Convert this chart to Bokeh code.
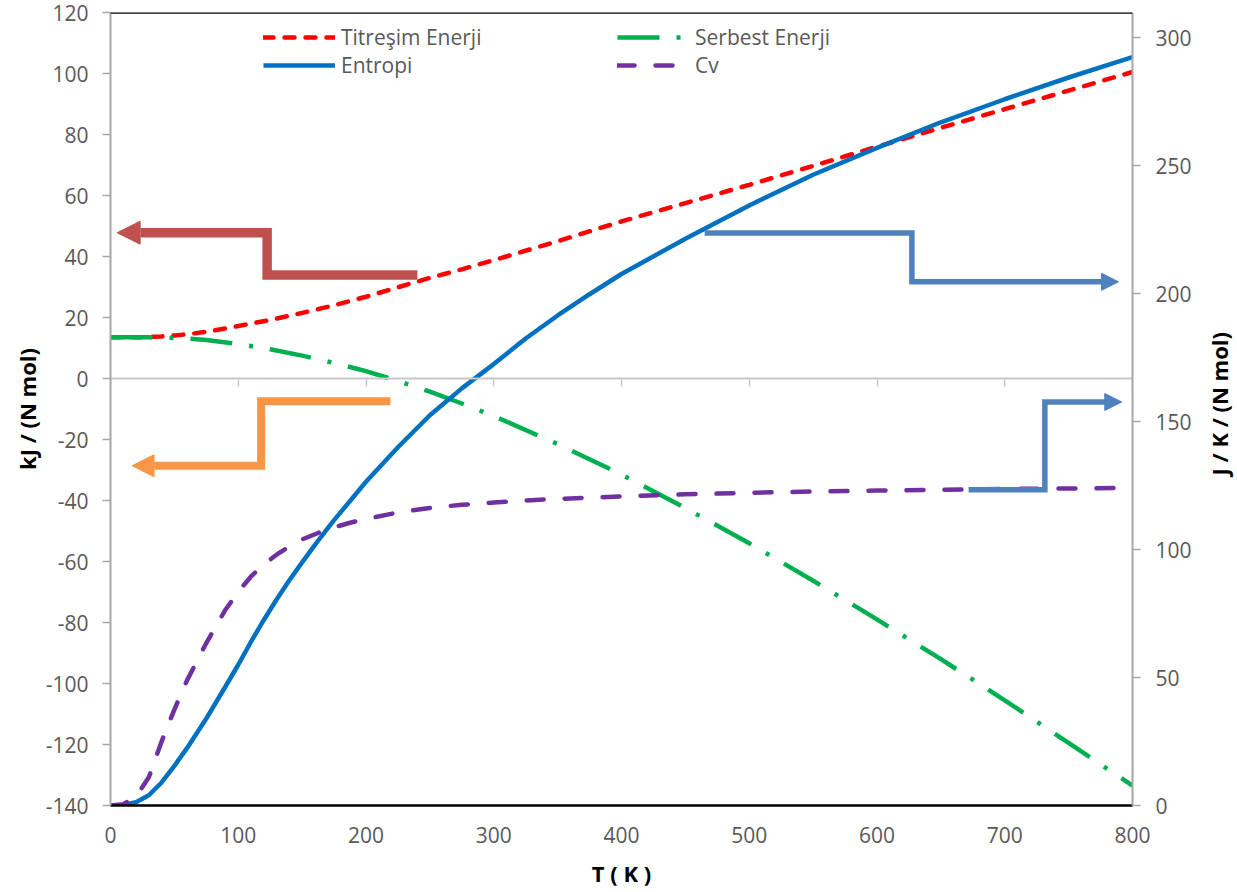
from bokeh.plotting import figure
from bokeh.layouts import row
from bokeh.models import (Range1d, LinearAxis, FixedTicker, Span, Legend, LegendItem,
                          Label, Arrow, NormalHead)
from bokeh.embed import file_html
from bokeh.resources import INLINE

# ---------------- data ----------------
T_left = [0, 10, 20, 30, 40, 50, 60, 75, 100, 125, 150, 175, 200, 225, 250, 275, 300,
          350, 400, 450, 500, 550, 600, 650, 700, 750, 800]
titresim = [13.5, 13.5, 13.5, 13.6, 13.8, 14.1, 14.5, 15.3, 17.2, 19.2, 21.5, 24.0,
            26.8, 29.9, 33.0, 35.8, 38.8, 45.0, 51.5, 57.5, 63.5, 69.7, 76.0, 82.2,
            88.3, 94.4, 100.5]
serbest = [13.5, 13.5, 13.5, 13.5, 13.4, 13.3, 13.1, 12.6, 11.3, 9.6, 7.5, 5.1,
           2.4, -0.8, -4.3, -8.2, -12.3, -21.5, -31.5, -42.5, -54.0, -66.3, -79.0,
           -92.0, -105.5, -119.5, -133.5]

T_right = [0, 10, 20, 30, 40, 50, 60, 75, 90, 100, 110, 120, 130, 140, 150, 162.5, 175,
           187.5, 200, 225, 250, 275, 300, 325, 350, 375, 400, 450, 500, 550, 600, 650,
           700, 750, 800]
entropi = [0.0, 0.2, 1.3, 4.0, 9.0, 15.5, 22.5, 34.0, 46.5, 55.0, 64.0, 72.5, 80.5,
           88.0, 95.0, 103.5, 111.5, 119.0, 126.5, 140.0, 152.5, 163.0, 172.5, 182.5,
           191.5, 199.8, 207.7, 221.5, 234.5, 246.5, 257.0, 267.0, 276.0, 284.5, 292.5]
cv = [0.0, 0.5, 3.5, 11.0, 25.0, 37.5, 49.0, 63.5, 76.5, 83.5, 89.5, 94.2, 98.0, 101.3,
      104.0, 106.5, 108.7, 110.5, 112.0, 114.5, 116.3, 117.5, 118.4, 119.2, 119.8,
      120.3, 120.8, 121.6, 122.2, 122.7, 123.1, 123.4, 123.7, 123.9, 124.1]

x_ticks = [0, 100, 200, 300, 400, 500, 600, 700, 800]
left_ticks = [-140, -120, -100, -80, -60, -40, -20, 0, 20, 40, 60, 80, 100, 120]
right_ticks = [0, 50, 100, 150, 200, 250, 300]

# decorative arrows (data coordinates: T, kJ)
red_arrow_x = [240.2, 122.6, 122.6, 23.5]
red_arrow_y = [33.9, 33.9, 47.8, 47.8]
red_tip = (5.2, 47.8)
orange_arrow_x = [219.1, 117.9, 117.9, 34.4]
orange_arrow_y = [-7.45, -7.45, -28.6, -28.6]
orange_tip = (16.9, -28.6)
blue1_arrow_x = [465.1, 627.3, 627.3, 776.0]
blue1_arrow_y = [47.7, 47.7, 31.7, 31.7]
blue1_tip = (789.1, 31.7)
blue2_arrow_x = [671.7, 731.4, 731.4, 778.6]
blue2_arrow_y = [-36.5, -36.5, -7.7, -7.7]
blue2_tip = (791.6, -7.7)

FONT = "Open Sans"
GRAY_TXT = "#595959"
AXIS_GRAY = "#A6A6A6"

p = figure(frame_width=1022, frame_height=793,
           x_range=Range1d(0, 800), y_range=Range1d(-140, 120),
           output_backend="svg", toolbar_location=None,
           min_border_left=110, min_border_right=72, min_border_top=12,
           min_border_bottom=80)
p.grid.visible = False
p.outline_line_color = None
p.extra_y_ranges = {"right": Range1d(0, 309.9)}


def style_axis(ax, line_color, line_width, tick_out):
    ax.axis_line_color = line_color
    ax.axis_line_width = line_width
    ax.major_tick_line_color = line_color if tick_out else None
    ax.major_tick_line_width = 1.5
    ax.major_tick_out = tick_out
    ax.major_tick_in = 0
    ax.minor_tick_line_color = None
    ax.major_label_text_font = FONT
    ax.major_label_text_font_size = "21px"
    ax.major_label_text_color = GRAY_TXT
    ax.axis_label_text_font = FONT
    ax.axis_label_text_font_size = "22px"
    ax.axis_label_text_font_style = "bold"
    ax.axis_label_text_color = "black"


# left axis
ya = p.yaxis[0]
ya.ticker = FixedTicker(ticks=left_ticks)
style_axis(ya, AXIS_GRAY, 2, 8)
ya.major_label_overrides = {t: str(t) for t in left_ticks}
ya.major_label_standoff = 14
ya.axis_label = "kJ / (N mol)"
ya.axis_label_standoff = 1

# bottom axis
xa = p.xaxis[0]
xa.ticker = FixedTicker(ticks=x_ticks)
style_axis(xa, "black", 2.5, 0)
xa.major_label_standoff = 21
xa.axis_label = "T ( K )"
xa.axis_label_standoff = 12

# zero crossing axis
zero_axis = LinearAxis(fixed_location=0, ticker=FixedTicker(ticks=x_ticks))
style_axis(zero_axis, "#C8C8C8", 2, 8)
zero_axis.major_label_text_color = None
p.add_layout(zero_axis, "below")

# right axis (ticks + labels)
ra = LinearAxis(y_range_name="right", ticker=FixedTicker(ticks=right_ticks))
style_axis(ra, AXIS_GRAY, 2, 8)
ra.major_label_standoff = 15
p.add_layout(ra, "right")

# top border line
p.add_layout(Span(location=120, dimension="width", line_color="black", line_width=2.5))

# series
r_red = p.line(T_left, titresim, line_color="#FF0000", line_width=4.5,
               line_dash="10 11", line_cap="round")
r_green = p.line(T_left, serbest, line_color="#00B050", line_width=4.5,
                 line_dash="42 17 4 17")
r_blue = p.line(T_right, entropi, line_color="#0070C0", line_width=4.5,
                y_range_name="right")
r_purple = p.line(T_right, cv, line_color="#7030A0", line_width=4.5, line_dash="17 21",
                  line_cap="round", y_range_name="right")

# arrows
for xs, ys, tip, col, lw, hs in [
    (red_arrow_x, red_arrow_y, red_tip, "#C0504D", 9.5, 23),
    (orange_arrow_x, orange_arrow_y, orange_tip, "#F79646", 8, 22),
    (blue1_arrow_x, blue1_arrow_y, blue1_tip, "#4F81BD", 5.5, 17),
    (blue2_arrow_x, blue2_arrow_y, blue2_tip, "#4F81BD", 5.5, 17),
]:
    p.line(xs, ys, line_color=col, line_width=lw, line_join="miter")
    p.add_layout(Arrow(end=NormalHead(size=hs, fill_color=col, line_color=col, line_width=1),
                       x_start=xs[-1], y_start=ys[-1], x_end=tip[0], y_end=tip[1],
                       line_alpha=0, line_width=0))


def make_legend(items, x):
    leg = Legend(items=items, location=(x, 726), orientation="vertical",
                 border_line_color=None, background_fill_alpha=0,
                 padding=0, margin=0, spacing=0, label_height=20, glyph_height=20,
                 glyph_width=72, label_standoff=6,
                 label_text_font=FONT, label_text_font_size="21px",
                 label_text_color=GRAY_TXT)
    p.add_layout(leg)


make_legend([LegendItem(label="Titreşim Enerji", renderers=[r_red]),
             LegendItem(label="Entropi", renderers=[r_blue])], 153)
make_legend([LegendItem(label="Serbest Enerji", renderers=[r_green]),
             LegendItem(label="Cv", renderers=[r_purple])], 507)

# narrow side figure holding the right-axis title (reads bottom-to-top)
pt = figure(width=32, height=891, x_range=Range1d(0, 32), y_range=Range1d(0, 891),
            x_axis_type=None, y_axis_type=None, output_backend="svg",
            toolbar_location=None, min_border=0)
pt.grid.visible = False
pt.outline_line_color = None
pt.add_layout(Label(x=14, y=452, text="J / K / (N mol)", angle=90, angle_units="deg",
                    text_align="center", text_baseline="middle",
                    text_font=FONT, text_font_size="22px", text_font_style="bold",
                    text_color="black"))

layout = row(p, pt)
open("out.html", "w").write(file_html(layout, INLINE))
